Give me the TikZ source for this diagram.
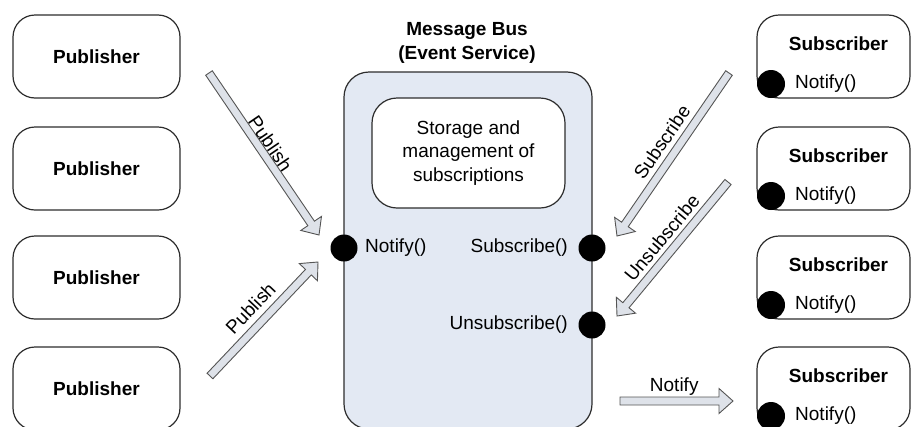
\documentclass[tikz,border=0pt]{standalone}
\usepackage{fontspec}
\setmainfont{Liberation Sans}
\usetikzlibrary{calc}

\definecolor{edge}{RGB}{45,45,45}
\definecolor{busfill}{RGB}{227,233,243}
\definecolor{flowfill}{RGB}{222,226,233}
\definecolor{flowedge}{RGB}{85,85,85}

\tikzset{
  box/.style={draw=edge, line width=1.2pt, rounded corners=22pt, fill=white},
  role/.style={font=\fontsize{19}{24}\selectfont\bfseries, inner sep=0pt},
  lbl/.style={font=\fontsize{19}{23.5}\selectfont, inner sep=0pt},
  port/.style={circle, fill=black, minimum size=27pt, inner sep=0pt},
  flow/.style={draw=flowedge, line width=0.9pt, fill=flowfill, line join=miter},
}

% hollow block arrow from #1 to #2
\newcommand\flowarrow[2]{%
  \filldraw[flow]
    ($(#1)!4pt!90:(#2)$) --
    ($(#2)!14pt!(#1)!4pt!90:(#2)$) --
    ($(#2)!14pt!(#1)!12.5pt!90:(#2)$) --
    (#2) --
    ($(#2)!14pt!(#1)!12.5pt!-90:(#2)$) --
    ($(#2)!14pt!(#1)!4pt!-90:(#2)$) --
    ($(#1)!4pt!-90:(#2)$) -- cycle;}

\begin{document}
\begin{tikzpicture}[x=1pt, y=-1pt]
\useasboundingbox (0,0) rectangle (912,426);

% publishers
\foreach \i/\t in {1/15,2/127,3/236,4/347}
  \node[box, role, minimum width=167pt, minimum height=83pt] (pub\i) at (96.5,\t+41.5) {Publisher};

% message bus
\node[role, align=center] (bustitle) at (467,43) {Message Bus\\(Event Service)};
\node[box, fill=busfill, rounded corners=25pt, minimum width=248pt, minimum height=357pt] (bus) at (468,250.5) {};
\node[box, lbl, align=center, rounded corners=25pt, minimum width=193pt, minimum height=110pt] (store) at (468.5,153)
  {Storage and\\management of\\subscriptions};

\node[port] (busnotify) at (344,248) {};
\node[port] (bussub) at (592,248) {};
\node[port] (busunsub) at (592,325) {};
\node[lbl, anchor=west] (opnotify) at (365,248) {Notify()};
\node[lbl, anchor=east] (opsub) at (568,248) {Subscribe()};
\node[lbl, anchor=east] (opunsub) at (568,325) {Unsubscribe()};

% subscribers
\foreach \i/\t in {1/15,2/127,3/236,4/347} {
  \node[box, minimum width=153pt, minimum height=83pt] (sub\i) at (833.5,\t+41.5) {};
  \node[role] (subname\i) at (838.5,\t+29) {Subscriber};
  \node[port, minimum size=28pt] (subport\i) at (771,\t+69) {};
  \node[lbl, anchor=west] (subop\i) at (795,\t+69) {Notify()};
}

% flow arrows
\coordinate (pubA) at (209,73);   \coordinate (pubAend) at (319,235);
\coordinate (pubB) at (210,376);  \coordinate (pubBend) at (318,262);
\coordinate (subA) at (729,73);   \coordinate (subAend) at (617,236);
\coordinate (unsA) at (728,182);  \coordinate (unsAend) at (617,316);
\coordinate (notA) at (620,401);  \coordinate (notAend) at (733,401);

\flowarrow{pubA}{pubAend}
\flowarrow{pubB}{pubBend}
\flowarrow{subA}{subAend}
\flowarrow{unsA}{unsAend}
\flowarrow{notA}{notAend}

\path (pubA) -- node[lbl, sloped, above=4pt, pos=0.475] {Publish} (pubAend);
\path (pubB) -- node[lbl, sloped, above=10pt, pos=0.49] {Publish} (pubBend);
\path (subA) -- node[lbl, sloped, above=9pt, pos=0.48] {Subscribe} (subAend);
\path (unsA) -- node[lbl, sloped, above=8pt, pos=0.49] {Unsubscribe} (unsAend);
\path (notA) -- node[lbl, above=5pt, pos=0.48] {Notify} (notAend);
\end{tikzpicture}
\end{document}
